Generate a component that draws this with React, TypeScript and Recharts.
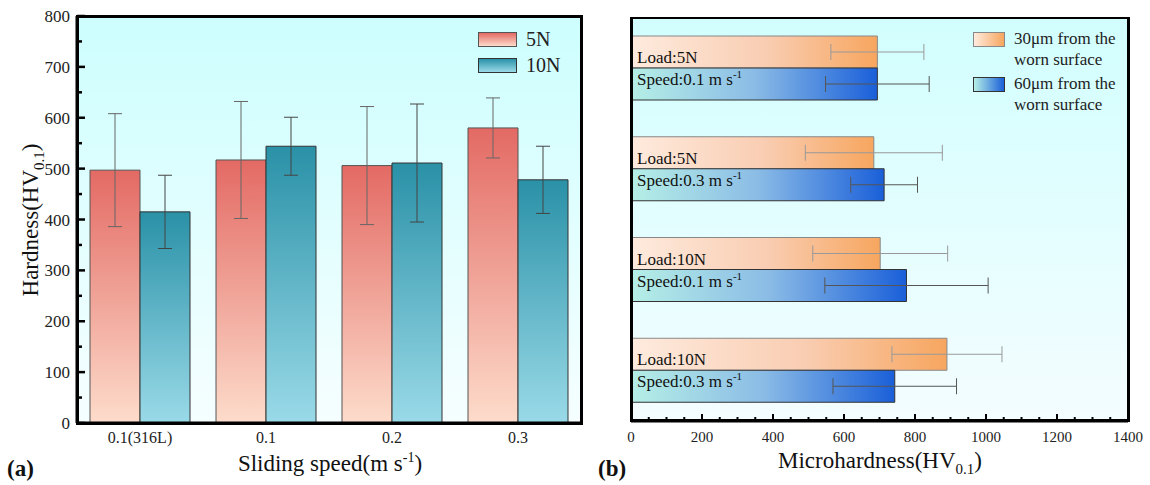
import React from 'react';
import {
  BarChart, Bar, XAxis, YAxis, CartesianGrid,
  ErrorBar, LabelList
} from 'recharts';

const SERIF = "'Liberation Serif', 'DejaVu Serif', serif";

// (a) hardness vs sliding speed
const speeds = ['0.1(316L)', '0.1', '0.2', '0.3'];
const hard5N = [497, 517, 506, 580];
const hard10N = [415, 544, 511, 478];
const err5N = [111, 115, 116, 59];
const err10N = [72, 57, 116, 66];
const hardTicks = [0, 50, 100, 150, 200, 250, 300, 350, 400, 450, 500, 550, 600, 650, 700, 750, 800];

// (b) microhardness at two depths
const loads = ['5N', '5N', '10N', '10N'];
const speedVals = ['0.1', '0.3', '0.1', '0.3'];
const micro30 = [694, 684, 702, 890];
const micro60 = [694, 713, 776, 743];
const err30 = [131, 193, 190, 155];
const err60 = [146, 94, 230, 174];
const microTicks = [
  0, 50, 100, 150, 200, 250, 300, 350, 400, 450, 500, 550, 600, 650, 700,
  750, 800, 850, 900, 950, 1000, 1050, 1100, 1150, 1200, 1250, 1300, 1350, 1400
];

const hardData = speeds.map((s, i) => ({
  name: s, n5: hard5N[i], n10: hard10N[i], e5: err5N[i], e10: err10N[i]
}));

const microData = loads.map((l, i) => ({
  name: `${l}-${speedVals[i]}`,
  load: `Load:${l}`,
  speed: speedVals[i],
  d30: micro30[i], d60: micro60[i], e30: err30[i], e60: err60[i]
}));

const LeftYTick = (props: any) => {
  const { x, y, payload } = props;
  const major = payload.value % 100 === 0;
  return (
    <g>
      <line x1={x} x2={x + (major ? 8 : 5)} y1={y} y2={y} stroke="#000" strokeWidth={2.5} />
      {major && (
        <text x={x - 7} y={y} dy={6} textAnchor="end" fontSize={17} fontFamily={SERIF} fill="#222">
          {payload.value}
        </text>
      )}
    </g>
  );
};

const RightXTick = (props: any) => {
  const { x, y, payload } = props;
  const major = payload.value % 200 === 0;
  return (
    <g>
      <line x1={x} x2={x} y1={y} y2={y - (major ? 7 : 4)} stroke="#000" strokeWidth={2} />
      {major && (
        <text x={x} y={y + 21} textAnchor="middle" fontSize={15} fontFamily={SERIF} fill="#222">
          {payload.value}
        </text>
      )}
    </g>
  );
};

const LoadLabel = (props: any) => {
  const { x, y, height, value } = props;
  return (
    <text x={x + 6} y={y + height - 5} fontSize={17} fontFamily={SERIF} fill="#111">
      {value}
    </text>
  );
};

const SpeedLabel = (props: any) => {
  const { x, y, value } = props;
  return (
    <text x={x + 6} y={y + 17} fontSize={17} fontFamily={SERIF} fill="#111">
      Speed:{value} m s<tspan dy={-7} fontSize={11}>-1</tspan>
    </text>
  );
};

const axisStroke = { stroke: '#000', strokeWidth: 3 };

export default function App() {
  return (
    <div style={{ position: 'absolute', left: 0, top: 0, width: 1150, height: 485, background: '#fff', fontFamily: SERIF }}>
      {/* (a) */}
      <div style={{ position: 'absolute', left: 0, top: 0 }}>
        <BarChart
          width={600}
          height={485}
          data={hardData}
          margin={{ top: 16, right: 19, bottom: 32, left: 17 }}
          barSize={50}
          barGap={0}
        >
          <defs>
            <linearGradient id="bgL" x1="0" y1="0" x2="0" y2="1">
              <stop offset="0%" stopColor="#cdfefe" />
              <stop offset="100%" stopColor="#f6feff" />
            </linearGradient>
            <linearGradient id="g5N" x1="0" y1="0" x2="0" y2="1">
              <stop offset="0%" stopColor="#e36a64" />
              <stop offset="100%" stopColor="#fddccb" />
            </linearGradient>
            <linearGradient id="g10N" x1="0" y1="0" x2="0" y2="1">
              <stop offset="0%" stopColor="#2a91a7" />
              <stop offset="100%" stopColor="#9adae8" />
            </linearGradient>
          </defs>
          <CartesianGrid fill="url(#bgL)" horizontal={false} vertical={false} />
          <XAxis
            dataKey="name"
            tickLine={false}
            tickSize={0}
            tickMargin={9}
            axisLine={axisStroke}
            tick={{ fontSize: 16, fontFamily: SERIF, fill: '#222' }}
            height={30}
          />
          <YAxis
            type="number"
            domain={[0, 800]}
            ticks={hardTicks}
            interval={0}
            width={60}
            tickSize={0}
            tickMargin={0}
            tickLine={false}
            axisLine={axisStroke}
            tick={<LeftYTick />}
          />
          <Bar dataKey="n5" fill="url(#g5N)" stroke="#555" strokeWidth={1} isAnimationActive={false}>
            <ErrorBar dataKey="e5" width={7} stroke="#666" strokeWidth={1} />
          </Bar>
          <Bar dataKey="n10" fill="url(#g10N)" stroke="#333" strokeWidth={1} isAnimationActive={false}>
            <ErrorBar dataKey="e10" width={7} stroke="#444" strokeWidth={1} />
          </Bar>
        </BarChart>
      </div>
      {/* frame (a) */}
      <div style={{ position: 'absolute', left: 76, top: 15, width: 507, height: 410, boxSizing: 'border-box', border: '3px solid #000', pointerEvents: 'none' }} />

      {/* legend (a) */}
      <div style={{ position: 'absolute', left: 478, top: 31, fontSize: 20, color: '#222' }}>
        <div style={{ display: 'flex', alignItems: 'center', height: 16, marginBottom: 10 }}>
          <div style={{ width: 37, height: 13, border: '1px solid #555', background: 'linear-gradient(#e36a64, #fddccb)' }} />
          <span style={{ marginLeft: 9 }}>5N</span>
        </div>
        <div style={{ display: 'flex', alignItems: 'center', height: 16 }}>
          <div style={{ width: 37, height: 13, border: '1px solid #333', background: 'linear-gradient(#2a91a7, #9adae8)' }} />
          <span style={{ marginLeft: 9 }}>10N</span>
        </div>
      </div>

      {/* titles (a) */}
      <div style={{ position: 'absolute', left: 7, top: 456, fontSize: 23, fontWeight: 'bold', color: '#111' }}>(a)</div>
      <div style={{ position: 'absolute', left: 220, top: 450, width: 220, textAlign: 'center', fontSize: 23, color: '#111', whiteSpace: 'nowrap' }}>
        Sliding speed(m s<sup style={{ fontSize: 14 }}>-1</sup>)
      </div>
      <div style={{
        position: 'absolute', left: 33, top: 220, fontSize: 23, color: '#111', whiteSpace: 'nowrap',
        transform: 'translate(-50%, -50%) rotate(-90deg)'
      }}>
        Hardness(HV<sub style={{ fontSize: 15 }}>0.1</sub>)
      </div>

      {/* (b) */}
      <div style={{ position: 'absolute', left: 580, top: 0 }}>
        <BarChart
          layout="vertical"
          width={570}
          height={485}
          data={microData}
          margin={{ top: 18, right: 22, bottom: 34, left: 51 }}
          barSize={32}
          barGap={0}
        >
          <defs>
            <linearGradient id="bgR" x1="0" y1="0" x2="0" y2="1">
              <stop offset="0%" stopColor="#d2fefe" />
              <stop offset="100%" stopColor="#f4fdff" />
            </linearGradient>
            <linearGradient id="g30" x1="0" y1="0" x2="1" y2="0">
              <stop offset="0%" stopColor="#feebde" />
              <stop offset="55%" stopColor="#f9cdb2" />
              <stop offset="100%" stopColor="#f7a65f" />
            </linearGradient>
            <linearGradient id="g60" x1="0" y1="0" x2="1" y2="0">
              <stop offset="0%" stopColor="#b5efe6" />
              <stop offset="50%" stopColor="#8bbce6" />
              <stop offset="100%" stopColor="#1a5fd9" />
            </linearGradient>
          </defs>
          <CartesianGrid fill="url(#bgR)" horizontal={false} vertical={false} />
          <XAxis
            type="number"
            domain={[0, 1400]}
            ticks={microTicks}
            interval={0}
            height={30}
            tickSize={0}
            tickMargin={0}
            tickLine={false}
            axisLine={axisStroke}
            tick={<RightXTick />}
          />
          <YAxis type="category" dataKey="name" hide />
          <Bar dataKey="d30" fill="url(#g30)" stroke="#888" strokeWidth={1} isAnimationActive={false}>
            <ErrorBar dataKey="e30" width={8} stroke="#999" strokeWidth={1} direction="x" />
            <LabelList dataKey="load" content={<LoadLabel />} />
          </Bar>
          <Bar dataKey="d60" fill="url(#g60)" stroke="#333" strokeWidth={1} isAnimationActive={false}>
            <ErrorBar dataKey="e60" width={8} stroke="#555" strokeWidth={1} direction="x" />
            <LabelList dataKey="speed" content={<SpeedLabel />} />
          </Bar>
        </BarChart>
      </div>
      {/* frame (b) */}
      <div style={{
        position: 'absolute', left: 630, top: 17, width: 500, height: 405, boxSizing: 'border-box',
        borderStyle: 'solid', borderColor: '#000', borderWidth: '2px 3px 3px 3px', pointerEvents: 'none'
      }} />

      {/* legend (b) */}
      <div style={{ position: 'absolute', left: 973, top: 28, fontSize: 17, color: '#222', lineHeight: '21px' }}>
        <div style={{ display: 'flex', alignItems: 'flex-start', marginBottom: 3 }}>
          <div style={{ width: 30, height: 13, marginTop: 4, border: '1px solid #888', background: 'linear-gradient(to right, #feebde, #f7a65f)' }} />
          <div style={{ marginLeft: 9 }}>30μm from the<br />worn surface</div>
        </div>
        <div style={{ display: 'flex', alignItems: 'flex-start' }}>
          <div style={{ width: 30, height: 13, marginTop: 4, border: '1px solid #333', background: 'linear-gradient(to right, #b5efe6, #1a5fd9)' }} />
          <div style={{ marginLeft: 9 }}>60μm from the<br />worn surface</div>
        </div>
      </div>

      {/* titles (b) */}
      <div style={{ position: 'absolute', left: 598, top: 456, fontSize: 23, fontWeight: 'bold', color: '#111' }}>(b)</div>
      <div style={{ position: 'absolute', left: 765, top: 448, width: 230, textAlign: 'center', fontSize: 23, color: '#111', whiteSpace: 'nowrap' }}>
        Microhardness(HV<sub style={{ fontSize: 15 }}>0.1</sub>)
      </div>
    </div>
  );
}
